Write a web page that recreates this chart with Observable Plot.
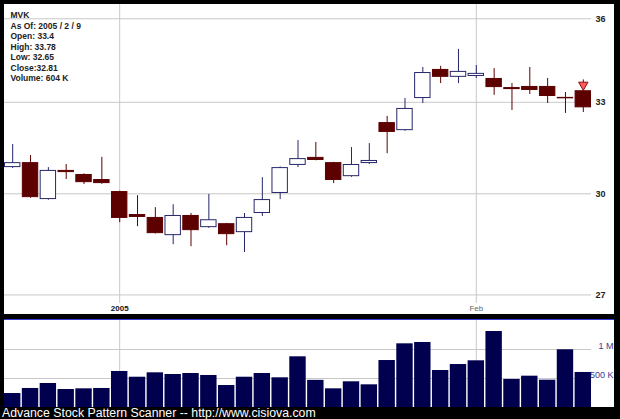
<!DOCTYPE html>
<html><head><meta charset="utf-8">
<script src="https://cdn.jsdelivr.net/npm/d3@7"></script>
<script src="https://cdn.jsdelivr.net/npm/@observablehq/plot@0.6"></script>
<style>
html,body{margin:0;padding:0;background:#000;width:620px;height:419px;overflow:hidden;font-family:"Liberation Sans",Arial,sans-serif}
#price{position:absolute;left:4px;top:4px;width:610px;height:310px;background:#fff}
#volume{position:absolute;left:4px;top:319px;width:610px;height:87px;background:#fff;border-top:1px solid #3a3ad8}
#footer{position:absolute;left:2px;top:407px;color:#fff;font-size:12.3px;line-height:12px;white-space:nowrap}
svg{display:block}
</style></head><body>
<div id="price"></div><div id="volume"></div><div id="footer"></div>
<script>
const ticker = "MVK";
const asOf = "2005 / 2 / 9";
const dates = ["2004-12-23","2004-12-27","2004-12-28","2004-12-29","2004-12-30","2004-12-31",
  "2005-01-03","2005-01-04","2005-01-05","2005-01-06","2005-01-07","2005-01-10","2005-01-11",
  "2005-01-12","2005-01-13","2005-01-14","2005-01-18","2005-01-19","2005-01-20","2005-01-21",
  "2005-01-24","2005-01-25","2005-01-26","2005-01-27","2005-01-28","2005-01-31","2005-02-01",
  "2005-02-02","2005-02-03","2005-02-04","2005-02-07","2005-02-08","2005-02-09"];
const open  = [30.83,30.99,29.82,30.74,30.61,30.45,30.07,29.36,29.27,28.72,29.33,28.96,29.08,28.81,29.39,30.01,30.90,31.16,30.99,30.54,30.96,32.31,32.04,33.13,34.15,33.87,33.90,33.83,33.51,33.55,33.55,33.17,33.4];
const high  = [31.58,31.22,30.83,30.93,30.63,31.16,30.08,29.94,29.57,29.66,29.39,29.98,29.09,29.39,30.51,30.85,31.71,31.65,31.00,31.48,31.61,32.52,33.13,34.22,34.26,34.87,34.29,34.18,33.65,34.22,33.83,33.34,33.78];
const low   = [30.80,29.86,29.80,30.45,30.29,30.30,29.11,28.99,28.77,28.45,28.39,28.94,28.42,28.22,29.30,29.82,30.83,31.05,30.32,30.52,30.93,31.28,32.02,32.96,33.65,33.65,33.83,33.24,32.72,33.27,32.96,32.62,32.65];
const close = [30.99,29.88,30.74,30.67,30.35,30.32,29.24,29.27,28.78,29.33,28.87,29.20,28.75,29.27,29.82,30.83,31.12,31.06,30.42,30.93,31.06,31.98,32.79,34.04,33.87,34.08,34.01,33.51,33.44,33.41,33.20,33.12,32.81];
const volumeK = [241,328,414,310,322,328,621,522,598,569,586,552,379,522,586,512,874,468,322,443,391,810,1098,1121,638,741,805,1310,483,540,471,995,604];
const priceTicks = [27,30,33,36];
const volumeTicks = [500000,1000000];
const volumeTickLabels = ["500 K","1 M"];
const dateTicks = ["2005-01-03","2005-02-01"];
const dateTickLabels = ["2005","Feb"];
const footerText = "Advance Stock Pattern Scanner -- http://www.cisiova.com";

const candles = dates.map((d,i)=>({date:d,open:open[i],high:high[i],low:low[i],close:close[i],volume:volumeK[i]*1000}));
const last = candles.length-1;
const UP = "#26266a", DOWN = "#5c0000", GRID = "#c8c8c8";
const isUp = d => d.close > d.open;
const font = "'Liberation Sans', Arial, sans-serif";
const xScale = {type:"band", domain:dates, paddingInner:0.08, paddingOuter:0, align:0.5, round:false, axis:null};

const info = [ticker, "As Of: " + asOf, "Open: " + open[last], "High: " + high[last],
  "Low: " + low[last], "Close:" + close[last], "Volume: " + volumeK[last] + " K"].join("\n");

const price = Plot.plot({
  width:610, height:310, marginLeft:0, marginRight:23, marginTop:0, marginBottom:11,
  style:{background:"#fff", fontFamily:font, overflow:"hidden"},
  x: xScale,
  y: {type:"log", domain:[26.76,36.54], axis:null},
  color: {type:"identity"},
  marks: [
    Plot.gridY(priceTicks, {stroke:GRID, strokeOpacity:1}),
    Plot.gridX(dateTicks, {stroke:GRID, strokeOpacity:1}),
    Plot.axisY(priceTicks, {anchor:"right", label:null, tickSize:0, tickPadding:4, tickFormat:d=>String(d), fontWeight:"bold", fontSize:9, fill:"#222"}),
    Plot.axisX([dateTicks[0]], {anchor:"bottom", label:null, tickSize:0, tickPadding:2, tickFormat:()=>dateTickLabels[0], fontWeight:"bold", fontSize:8, fill:"#111"}),
    Plot.axisX([dateTicks[1]], {anchor:"bottom", label:null, tickSize:0, tickPadding:2, tickFormat:()=>dateTickLabels[1], fontSize:8, fill:"#666"}),
    Plot.ruleX(candles, {x:"date", y1:"low", y2:"high", stroke:d=>isUp(d)?UP:DOWN}),
    Plot.barY(candles, {x:"date", y1:d=>Math.min(d.open,d.close), y2:d=>Math.max(d.open,d.close),
      fill:d=>isUp(d)?"#fff":DOWN, stroke:d=>isUp(d)?UP:DOWN, strokeWidth:1, inset:0.5}),
    Plot.dot([candles[last]], {x:"date", y:"high", symbol:"triangle", rotate:180, r:3.5, fill:"#ff5a5a", stroke:"#8a1010", strokeWidth:1, dy:5}),
    Plot.text([info], {text:d=>d, frameAnchor:"top-left", dx:6, dy:6, lineAnchor:"top", fontSize:8.5, fontWeight:"bold", fill:"#222", lineHeight:1.24})
  ]
});
document.getElementById("price").appendChild(price);

const vol = Plot.plot({
  width:610, height:87, marginLeft:0, marginRight:23, marginTop:0, marginBottom:0,
  style:{background:"#fff", fontFamily:font, overflow:"hidden"},
  x: xScale,
  y: {domain:[0,1500000], axis:null},
  marks: [
    Plot.gridY(volumeTicks, {stroke:GRID, strokeOpacity:1}),
    Plot.gridX(dateTicks, {stroke:GRID, strokeOpacity:1}),
    Plot.barY(candles, {x:"date", y:"volume", fill:"#00004e"}),
    Plot.text(volumeTicks, {y:d=>d, text:(d,i)=>volumeTickLabels[i], frameAnchor:"right", textAnchor:"end", dx:22, dy:-3, fill:"#3a3a90", fontSize:9})
  ]
});
document.getElementById("volume").appendChild(vol);
document.getElementById("footer").textContent = footerText;
</script>
</body></html>
